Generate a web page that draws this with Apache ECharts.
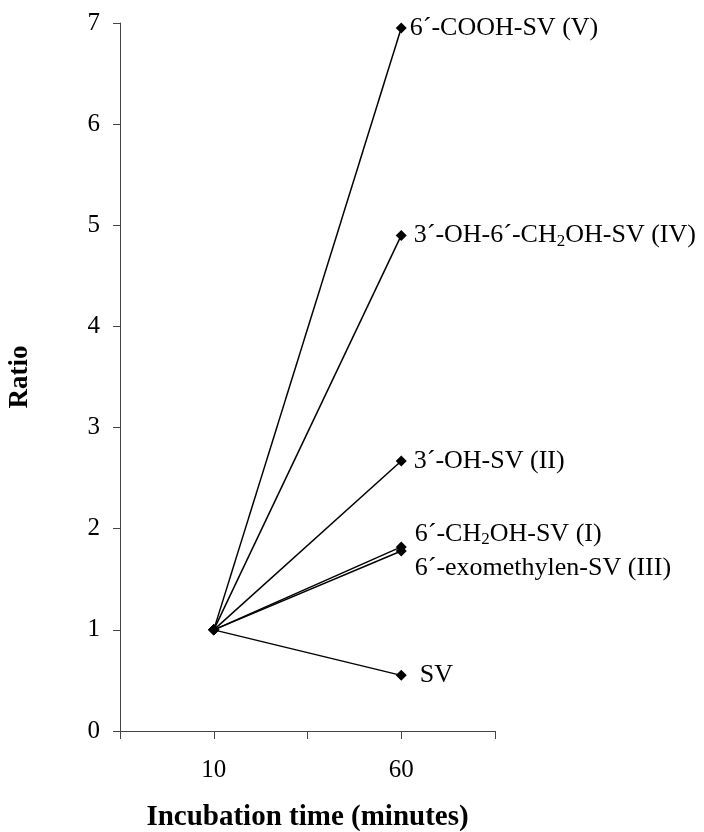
<!DOCTYPE html>
<html>
<head>
<meta charset="utf-8">
<script src="https://cdn.jsdelivr.net/npm/echarts@6/dist/echarts.min.js"></script>
<style>
  html, body { margin: 0; padding: 0; background: #fff; }
  #chart { width: 704px; height: 832px; }
</style>
</head>
<body>
<div id="chart"></div>
<script>
// x slots: blanks pad the axis so 10 and 60 sit on ticks
const timeSlots = ['', '10', '', '60', '']
const startTime = '10'
const endTime = '60'
const yTicks = { min: 0, max: 7, interval: 1 }

// ratio at 10 min is 1 for every compound
const compounds = ['V', 'IV', 'II', 'I', 'III', 'SV']
const labels = [
  '6´-COOH-SV (V)',
  '3´-OH-6´-CH{sub|2}OH-SV (IV)',
  '3´-OH-SV (II)',
  '6´-CH{sub|2}OH-SV (I)',
  '6´-exomethylen-SV (III)',
  'SV'
]
const startRatio = [1, 1, 1, 1, 1, 1]
const endRatio = [6.95, 4.90, 2.67, 1.82, 1.78, 0.55]

// label placement next to the 60 min marker
const labelDistance = [3, 7, 7, 8, 8, 13]
const labelOffset = [[0, 0], [0, 0], [0, 0], [0, -13], [0, 17], [0, 0]]

const FONT = "'Liberation Serif', 'Times New Roman', serif"

const chart = echarts.init(document.getElementById('chart'))

const series = compounds.map((c, i) => ({
  name: c,
  type: 'line',
  symbol: 'diamond',
  symbolSize: 11,
  lineStyle: { color: '#000', width: 1.5 },
  itemStyle: { color: '#000' },
  z: 3,
  data: [
    [startTime, startRatio[i]],
    {
      value: [endTime, endRatio[i]],
      label: {
        show: true,
        position: 'right',
        distance: labelDistance[i],
        offset: labelOffset[i],
        formatter: labels[i],
        fontFamily: FONT,
        fontSize: 26,
        color: '#000',
        rich: {
          sub: { fontFamily: FONT, fontSize: 17, color: '#000', padding: [12, 0, 0, 0] }
        }
      }
    }
  ],
  animation: false
}))

const option = {
  backgroundColor: '#fff',
  animation: false,
  grid: { left: 120, right: 209, top: 23, bottom: 101, outerBoundsMode: 'none' },
  xAxis: {
    type: 'category',
    data: timeSlots,
    boundaryGap: false,
    name: 'Incubation time (minutes)',
    nameLocation: 'middle',
    nameGap: 72,
    nameTextStyle: { fontFamily: FONT, fontSize: 29, fontWeight: 'bold', color: '#000' },
    axisLine: { lineStyle: { color: '#444', width: 1 } },
    axisTick: { show: true, length: 8, inside: false, interval: 0, alignWithLabel: true, lineStyle: { color: '#444' } },
    axisLabel: { interval: 0, margin: 27, fontFamily: FONT, fontSize: 25, color: '#000' },
    splitLine: { show: false }
  },
  yAxis: {
    type: 'value',
    min: yTicks.min,
    max: yTicks.max,
    interval: yTicks.interval,
    name: 'Ratio',
    nameLocation: 'middle',
    nameRotate: 90,
    nameGap: 86,
    nameTextStyle: { fontFamily: FONT, fontSize: 27, fontWeight: 'bold', color: '#000' },
    axisLine: { show: true, lineStyle: { color: '#444', width: 1 } },
    axisTick: { show: true, length: 7, lineStyle: { color: '#444' } },
    axisLabel: { margin: 20, fontFamily: FONT, fontSize: 25, color: '#000' },
    splitLine: { show: false }
  },
  series: series
}

chart.setOption(option)
</script>
</body>
</html>
